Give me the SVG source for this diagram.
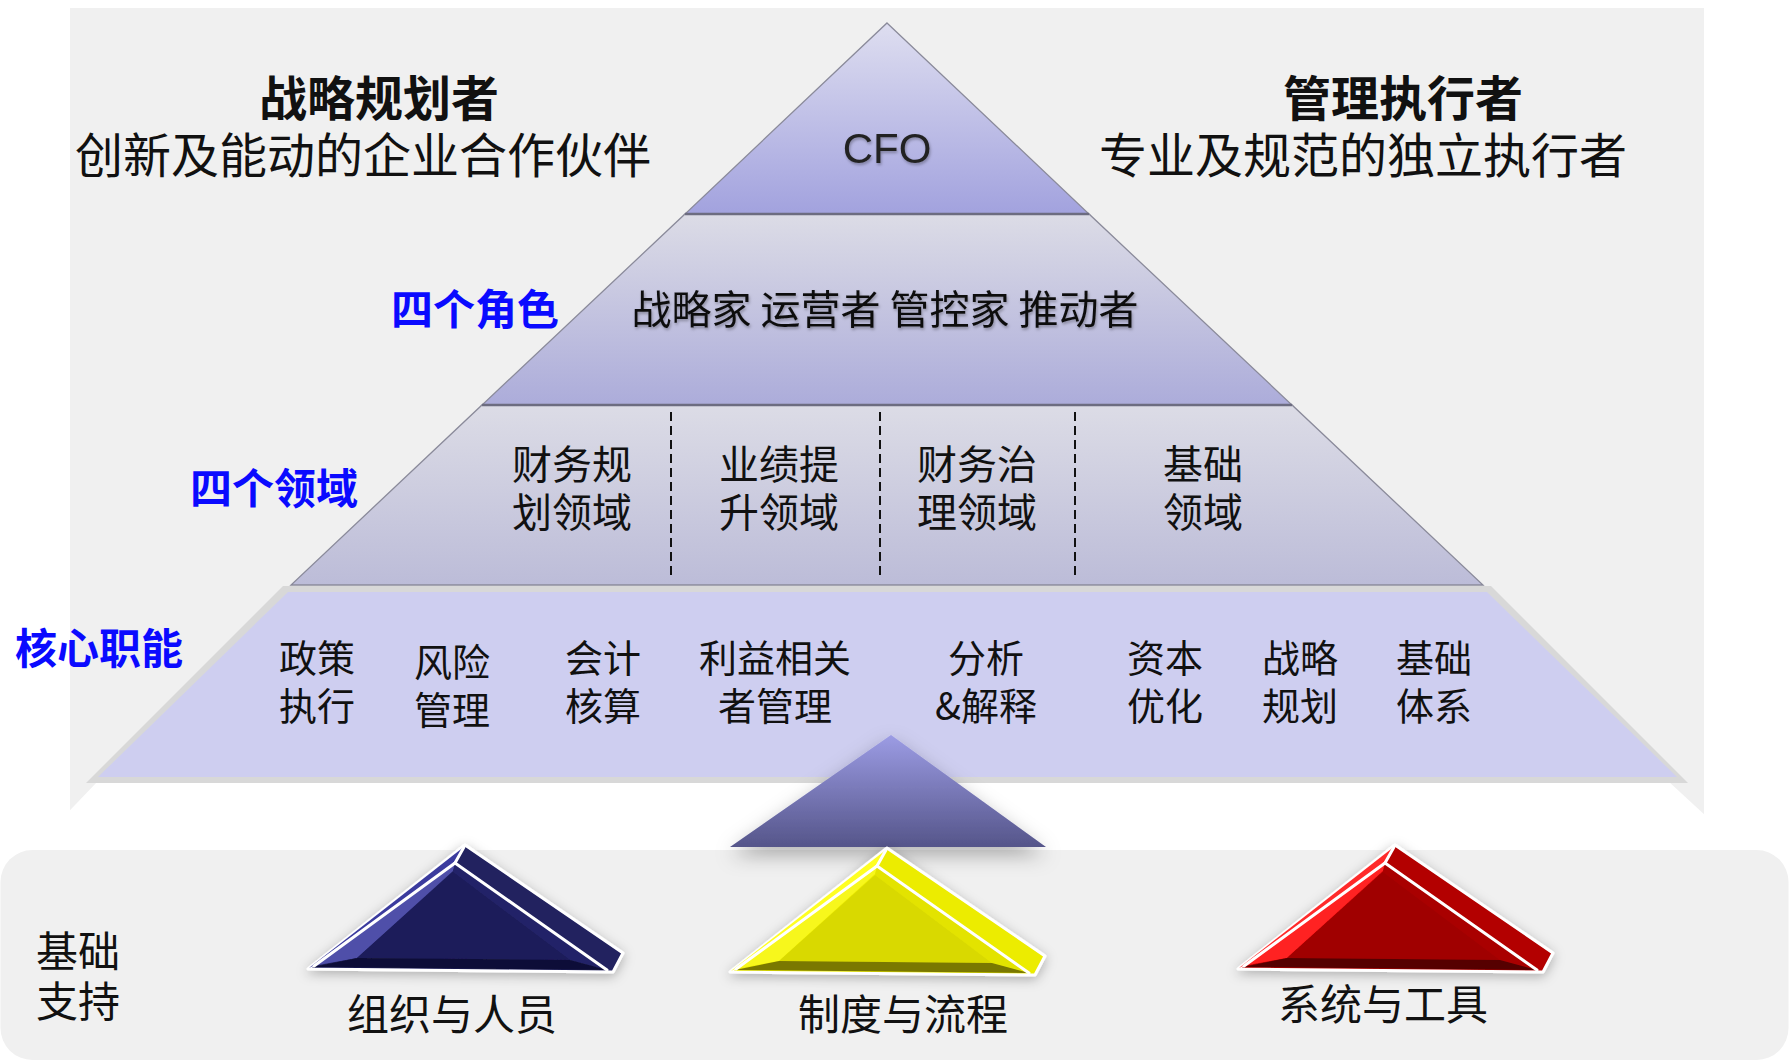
<svg xmlns="http://www.w3.org/2000/svg" width="1789" height="1061" viewBox="0 0 1789 1061">
  <defs>
    <style>
      .cjk { font-family: "Noto Sans CJK SC", "Noto Sans", sans-serif; fill: #111; }
      .head { font-size: 48px; text-anchor: middle; }
      .bold { font-weight: bold; }
      .tag { font-size: 42px; font-weight: bold; fill: #0a0aff; text-anchor: middle; }
      .t3 { font-size: 40px; text-anchor: middle; }
      .t4 { font-size: 38px; text-anchor: middle; }
      .base { font-size: 42px; text-anchor: middle; }
      .edge { stroke: #8a8a9a; stroke-width: 1.3; }
      .sep { stroke: #6c6c80; stroke-width: 2.5; }
      .dash { stroke: #111; stroke-width: 2; stroke-dasharray: 9 5; fill: none; }
      .wl { stroke: #fff; stroke-width: 3; fill: none; stroke-linecap: round; }
      .outer { stroke: #fff; stroke-width: 3; stroke-linejoin: round; }
      #org .rf { fill: #21215f; } #org .lb { fill: #3b3b9e; } #org .lf { fill: #4f50a9; }
      #org .ir { fill: #242468; } #org .cf { fill: #1d1c5a; } #org .bf { fill: #111138; }
      #rule .rf { fill: #ecec00; } #rule .lb { fill: #ffff22; } #rule .lf { fill: #f7f71a; }
      #rule .ir { fill: #e3e300; } #rule .cf { fill: #d9d900; } #rule .bf { fill: #7a7800; }
      #tool .rf { fill: #b30000; } #tool .lb { fill: #ff2a2a; } #tool .lf { fill: #ff2020; }
      #tool .ir { fill: #a90000; } #tool .cf { fill: #a00000; } #tool .bf { fill: #560000; }
    </style>
    <linearGradient id="gCfo" x1="0" y1="0" x2="0" y2="1">
      <stop offset="0" stop-color="#dedef0"/>
      <stop offset="1" stop-color="#a2a2de"/>
    </linearGradient>
    <linearGradient id="gRole" x1="0" y1="0" x2="0" y2="1">
      <stop offset="0" stop-color="#dcdce6"/>
      <stop offset="1" stop-color="#acacda"/>
    </linearGradient>
    <linearGradient id="gArea" x1="0" y1="0" x2="0" y2="1">
      <stop offset="0" stop-color="#dcdce6"/>
      <stop offset="1" stop-color="#bcbcd8"/>
    </linearGradient>
    <linearGradient id="gSupport" x1="0" y1="0" x2="0" y2="1">
      <stop offset="0" stop-color="#9c9ce4"/>
      <stop offset="1" stop-color="#55558a"/>
    </linearGradient>
    <filter id="drop" x="-30%" y="-30%" width="160%" height="180%">
      <feDropShadow dx="0" dy="8" stdDeviation="10" flood-color="#000" flood-opacity="0.3"/>
    </filter>
    <filter id="glow" x="-20%" y="-30%" width="140%" height="160%">
      <feDropShadow dx="0" dy="3" stdDeviation="6" flood-color="#000" flood-opacity="0.28"/>
    </filter>
    <filter id="txtShadow" x="-5%" y="-30%" width="110%" height="160%">
      <feDropShadow dx="1" dy="2" stdDeviation="1.5" flood-color="#000" flood-opacity="0.3"/>
    </filter>
  </defs>

  <rect width="1789" height="1061" fill="#fff"/>

  <!-- backdrop panels -->
  <g id="backdrop">
    <rect x="70" y="8" width="1634" height="807" fill="#f0f0f0"/>
    <polygon points="98,781 1668,781 1745,852 30,852" fill="#fff"/>
    <rect x="0.5" y="850" width="1788" height="210" rx="32" fill="#f0f0f0"/>
  </g>

  <!-- side headings -->
  <g id="strategist">
    <text class="cjk head bold" x="379" y="116">战略规划者</text>
    <text class="cjk head" x="363" y="173">创新及能动的企业合作伙伴</text>
  </g>
  <g id="executor">
    <text class="cjk head bold" x="1403" y="116">管理执行者</text>
    <text class="cjk head" x="1363" y="173">专业及规范的独立执行者</text>
  </g>

  <!-- pyramid tiers -->
  <g id="tier-cfo">
    <polygon points="887,23 1089,214 685,214" fill="url(#gCfo)" class="edge"/>
    <text x="887" y="163" font-family="Liberation Sans, Arial, sans-serif" font-size="42" fill="#222" text-anchor="middle" filter="url(#txtShadow)">CFO</text>
  </g>
  <g id="tier-roles">
    <polygon points="685,214 1089,214 1292,405 482,405" fill="url(#gRole)" class="edge"/>
    <line class="sep" x1="685" y1="214" x2="1089" y2="214"/>
    <text class="cjk t3" x="885" y="324" filter="url(#txtShadow)">战略家 运营者 管控家 推动者</text>
    <text class="cjk tag" x="475" y="325">四个角色</text>
  </g>
  <g id="tier-areas">
    <polygon points="482,405 1292,405 1483,585 291,585" fill="url(#gArea)" class="edge"/>
    <line class="sep" x1="482" y1="405" x2="1292" y2="405"/>
    <line class="dash" x1="671" y1="412" x2="671" y2="580"/>
    <line class="dash" x1="880" y1="412" x2="880" y2="580"/>
    <line class="dash" x1="1075" y1="412" x2="1075" y2="580"/>
    <text class="cjk t3" x="572" y="479">财务规</text>
    <text class="cjk t3" x="572" y="527">划领域</text>
    <text class="cjk t3" x="779" y="479">业绩提</text>
    <text class="cjk t3" x="779" y="527">升领域</text>
    <text class="cjk t3" x="977" y="479">财务治</text>
    <text class="cjk t3" x="977" y="527">理领域</text>
    <text class="cjk t3" x="1203" y="479">基础</text>
    <text class="cjk t3" x="1203" y="527">领域</text>
    <text class="cjk tag" x="274" y="504">四个领域</text>
  </g>
  <g id="tier-core">
    <polygon points="283,586 1491,586 1688,783 86,783" fill="#d8d8d8"/>
    <polygon points="288,592 1487,592 1677,777 98,777" fill="#cecef0"/>
    <text class="cjk t4" x="317" y="672">政策</text>
    <text class="cjk t4" x="317" y="720">执行</text>
    <text class="cjk t4" x="452" y="676">风险</text>
    <text class="cjk t4" x="452" y="724">管理</text>
    <text class="cjk t4" x="603" y="672">会计</text>
    <text class="cjk t4" x="603" y="720">核算</text>
    <text class="cjk t4" x="775" y="672">利益相关</text>
    <text class="cjk t4" x="775" y="720">者管理</text>
    <text class="cjk t4" x="986" y="672">分析</text>
    <text class="cjk t4" x="986" y="720">&amp;解释</text>
    <text class="cjk t4" x="1165" y="672">资本</text>
    <text class="cjk t4" x="1165" y="720">优化</text>
    <text class="cjk t4" x="1300" y="672">战略</text>
    <text class="cjk t4" x="1300" y="720">规划</text>
    <text class="cjk t4" x="1434" y="672">基础</text>
    <text class="cjk t4" x="1434" y="720">体系</text>
    <text class="cjk tag" x="99" y="664">核心职能</text>
  </g>

  <!-- supporting wedge under the pyramid -->
  <g id="support">
    <polygon points="891,735 1046,847 730,847" fill="url(#gSupport)" filter="url(#drop)"/>
  </g>

  <!-- foundation -->
  <g id="foundation">
    <text class="cjk base" x="78" y="967">基础</text>
    <text class="cjk base" x="78" y="1017">支持</text>
  </g>

  <!-- bevelled triangles, each drawn with its apex at the local origin -->
  <g id="org">
    <g transform="translate(465,845)" filter="url(#glow)">
      <polygon class="rf outer" points="0,0 158,108 148,127 -157,124"/>
      <polygon class="lb" points="0,1 -10,18 -152,121 -156,123"/>
      <polygon class="lf" points="-10,18 -152,121 -108,113 -12,26"/>
      <polygon class="ir" points="-10,19 141,124 105,115 -12,27"/>
      <polygon class="cf" points="-12,27 -108,113 105,115"/>
      <polygon class="bf" points="-152,122 -108,113 105,115 142,125"/>
      <line class="wl" x1="-10" y1="18" x2="-151" y2="121"/>
      <line class="wl" x1="-10" y1="18" x2="142" y2="125"/>
      <line class="wl" x1="-10" y1="18" x2="-1" y2="2"/>
    </g>
    <text class="cjk base" x="452" y="1030">组织与人员</text>
  </g>
  <g id="rule">
    <g transform="translate(887,848)" filter="url(#glow)">
      <polygon class="rf outer" points="0,0 158,108 148,127 -157,124"/>
      <polygon class="lb" points="0,1 -10,18 -152,121 -156,123"/>
      <polygon class="lf" points="-10,18 -152,121 -108,113 -12,26"/>
      <polygon class="ir" points="-10,19 141,124 105,115 -12,27"/>
      <polygon class="cf" points="-12,27 -108,113 105,115"/>
      <polygon class="bf" points="-152,122 -108,113 105,115 142,125"/>
      <line class="wl" x1="-10" y1="18" x2="-151" y2="121"/>
      <line class="wl" x1="-10" y1="18" x2="142" y2="125"/>
      <line class="wl" x1="-10" y1="18" x2="-1" y2="2"/>
    </g>
    <text class="cjk base" x="903" y="1030">制度与流程</text>
  </g>
  <g id="tool">
    <g transform="translate(1395,845)" filter="url(#glow)">
      <polygon class="rf outer" points="0,0 158,108 148,127 -157,124"/>
      <polygon class="lb" points="0,1 -10,18 -152,121 -156,123"/>
      <polygon class="lf" points="-10,18 -152,121 -108,113 -12,26"/>
      <polygon class="ir" points="-10,19 141,124 105,115 -12,27"/>
      <polygon class="cf" points="-12,27 -108,113 105,115"/>
      <polygon class="bf" points="-152,122 -108,113 105,115 142,125"/>
      <line class="wl" x1="-10" y1="18" x2="-151" y2="121"/>
      <line class="wl" x1="-10" y1="18" x2="142" y2="125"/>
      <line class="wl" x1="-10" y1="18" x2="-1" y2="2"/>
    </g>
    <text class="cjk base" x="1383" y="1020">系统与工具</text>
  </g>
</svg>
